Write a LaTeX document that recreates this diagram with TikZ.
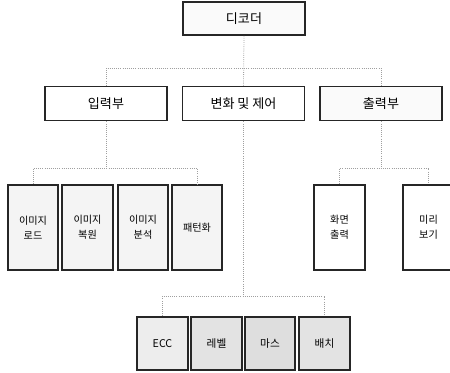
\documentclass[tikz,border=0pt]{standalone}
\usepackage{fontspec}
\setmainfont{Noto Sans CJK KR}
\begin{document}
\begin{tikzpicture}[x=0.75pt,y=-0.75pt,
  box/.style={draw=black!85,line width=1.4pt,inner sep=0pt,align=center,
    font=\fontsize{8.5}{12}\selectfont},
  wide/.style={box,minimum width=91.5pt,minimum height=25.5pt,fill=white,
    font=\fontsize{9.8}{12}\selectfont},
  tall/.style={box,minimum width=38pt,minimum height=63.5pt,fill=gray!9,
    font=\fontsize{7.6}{11.5}\selectfont},
  low/.style={box,minimum width=38pt,minimum height=39.5pt,fill=gray!22,
    font=\fontsize{8}{11}\selectfont},
  link/.style={draw=gray!75,line width=0.6pt,densely dotted}]
\useasboundingbox (0,0) rectangle (450,372);
\clip (0,0) rectangle (450,372);
% level 0
\node[wide,minimum height=24.5pt,fill=gray!4] (dec) at (244,18.5) {디코더};
% level 1
\node[wide] (in)  at (106,103.5) {입력부};
\node[wide] (ctl) at (243.5,103.5) {변화 및 제어};
\node[wide,fill=gray!4] (out) at (381,103.5) {출력부};
% level 2
\node[tall] (img1) at (33,227.5) {이미지\\로드};
\node[tall] (img2) at (87.5,227.5) {이미지\\복원};
\node[tall] (img3) at (143,227.5) {이미지\\분석};
\node[tall] (pat)  at (197,227.5) {패턴화};
\node[tall,fill=white] (scr) at (339.5,227.5) {화면\\출력};
\node[tall,fill=white] (pre) at (428.5,227.5) {미리\\보기};
% level 3
\node[low,fill=gray!14] (ecc) at (162.5,343.5) {ECC};
\node[low] (lvl) at (216.5,343.5) {레벨};
\node[low,fill=gray!26] (mas) at (270,343.5) {마스};
\node[low] (bat) at (324.5,343.5) {배치};
% junctions
\coordinate (j0) at (243.5,68);
\coordinate (j1) at (106,168);
\coordinate (j2) at (243.5,296);
\coordinate (j3) at (381,168);
% connectors
\draw[link] (dec.south) -- (ctl.north);
\draw[link] (in.north) |- (j0) -| (out.north);
\draw[link] (in.south) -- (j1);
\draw[link] (img1.north) |- (j1) -| (pat.north);
\draw[link] (ctl.south) -- (j2);
\draw[link] (ecc.north) |- (j2) -| (bat.north);
\draw[link] (out.south) -- (j3);
\draw[link] (scr.north) |- (j3) -| (pre.north);
\end{tikzpicture}
\end{document}
